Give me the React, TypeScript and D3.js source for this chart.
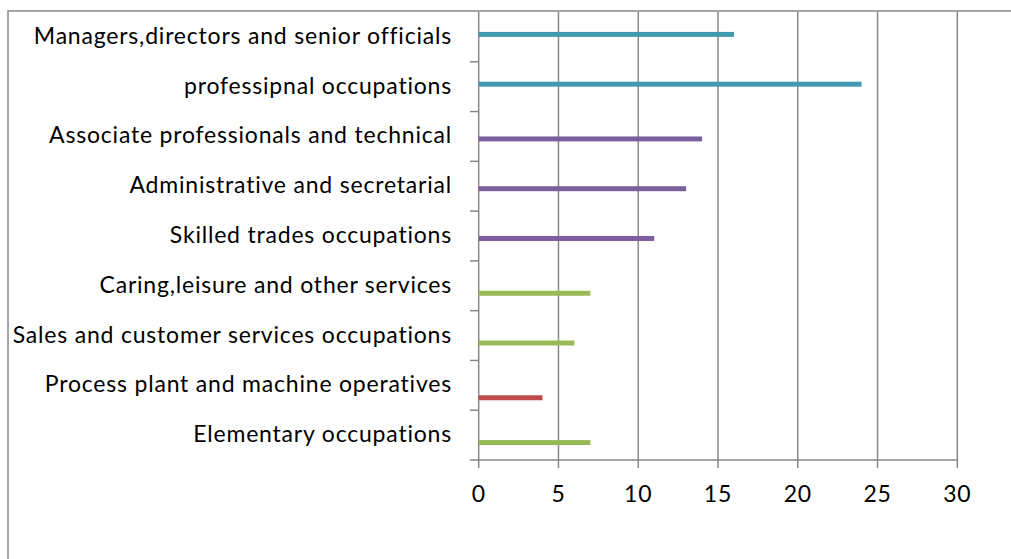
import React from "react";
import * as d3 from "d3";

const categories = [
  "Managers,directors and senior officials",
  "professipnal occupations",
  "Associate professionals and technical",
  "Administrative and secretarial",
  "Skilled trades occupations",
  "Caring,leisure and other services",
  "Sales and customer services occupations",
  "Process plant and machine operatives",
  "Elementary occupations",
];
const values = [16, 24, 14, 13, 11, 7, 6, 4, 7];
const seriesOf = [
  "Series 4",
  "Series 4",
  "Series 3",
  "Series 3",
  "Series 3",
  "Series 2",
  "Series 2",
  "Series 1",
  "Series 2",
];
// slot order inside each category group, top to bottom
const seriesSlots = ["Series 6", "Series 5", "Series 4", "Series 3", "Series 2", "Series 1"];
const seriesColors: Record<string, string> = {
  "Series 1": "#BE4B48",
  "Series 2": "#98B954",
  "Series 3": "#7D5FA0",
  "Series 4": "#4299B0",
  "Series 5": "#F79646",
  "Series 6": "#2C4D75",
};
const xTicks = [0, 5, 10, 15, 20, 25, 30];

const W = 1011;
const H = 559;
const plot = { left: 478.7, right: 957.3, top: 12, bottom: 460 };
const FONT = "Lato, 'Open Sans', sans-serif";
const GRID = "#898989";

export default function App() {
  const x = d3.scaleLinear().domain([0, 30]).range([plot.left, plot.right]);
  const y = d3
    .scaleBand<string>()
    .domain(categories)
    .range([plot.top, plot.bottom])
    .paddingInner(0.4)
    .paddingOuter(0.2);
  const inner = d3.scaleBand<string>().domain(seriesSlots).range([0, y.bandwidth()]);
  const step = y.step();
  const boundaries = d3.range(1, categories.length).map((k) => plot.top + step * k);

  return (
    <svg
      width={W}
      height={H}
      style={{ position: "absolute", left: 0, top: 0, background: "#fff", display: "block" }}
    >
      <rect x={0} y={0} width={W} height={H} fill="#fff" />
      <rect x={8} y={11} width={W + 20} height={H + 20} fill="none" stroke="#8f8f8f" strokeWidth={1.6} />
      {/* gridlines */}
      {xTicks.slice(1).map((t) => (
        <line key={"g" + t} x1={x(t)} x2={x(t)} y1={plot.top} y2={plot.bottom} stroke={GRID} strokeWidth={1.5} />
      ))}
      {/* bottom axis */}
      <line x1={470} x2={plot.right} y1={plot.bottom} y2={plot.bottom} stroke={GRID} strokeWidth={1.5} />
      {xTicks.map((t) => (
        <line key={"t" + t} x1={x(t)} x2={x(t)} y1={plot.bottom} y2={plot.bottom + 8} stroke={GRID} strokeWidth={1.5} />
      ))}
      {/* left axis */}
      <line x1={x(0)} x2={x(0)} y1={plot.top} y2={plot.bottom} stroke={GRID} strokeWidth={1.5} />
      {boundaries.map((b, i) => (
        <line key={"b" + i} x1={470} x2={x(0)} y1={b} y2={b} stroke={GRID} strokeWidth={1.5} />
      ))}
      {/* bars */}
      {categories.map((c, i) => {
        const s = seriesOf[i];
        return (
          <rect
            key={"bar" + i}
            x={x(0)}
            y={(y(c) as number) + (inner(s) as number)}
            width={x(values[i]) - x(0)}
            height={inner.bandwidth()}
            fill={seriesColors[s]}
          />
        );
      })}
      {/* category labels */}
      {categories.map((c, i) => (
        <text
          key={"l" + i}
          x={452}
          y={(y(c) as number) + y.bandwidth() / 2 + 7}
          textAnchor="end"
          fontFamily={FONT}
          fontSize={23}
          letterSpacing={0.8}
          fill="#000"
        >
          {c}
        </text>
      ))}
      {/* x tick labels */}
      {xTicks.map((t) => (
        <text
          key={"xl" + t}
          x={x(t)}
          y={502}
          textAnchor="middle"
          fontFamily={FONT}
          fontSize={23}
          letterSpacing={0.8}
          fill="#000"
        >
          {t}
        </text>
      ))}
    </svg>
  );
}
